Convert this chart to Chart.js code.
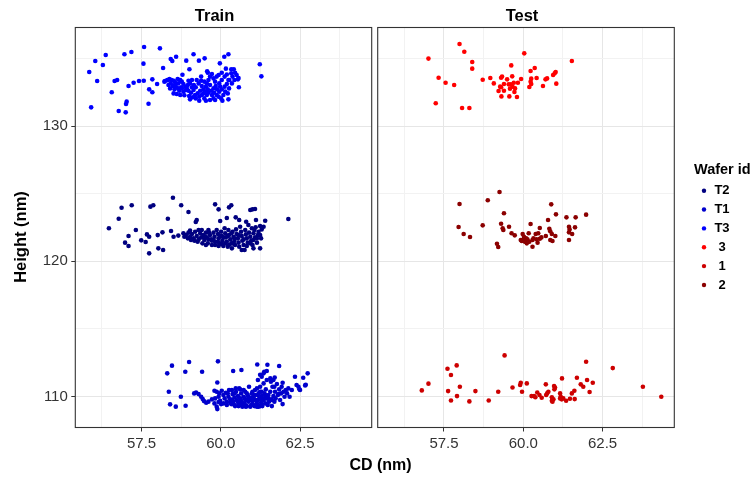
<!DOCTYPE html>
<html><head><meta charset="utf-8">
<script src="https://cdn.jsdelivr.net/npm/chart.js@4.4.1/dist/chart.umd.min.js"></script>
<style>
html,body{margin:0;padding:0;background:#fff;}
#wrap{position:relative;width:753px;height:478px;background:#fff;}
#wrap canvas{position:absolute;left:0;top:0;}
</style></head><body>
<div id="wrap"><canvas id="cTrain" width="753" height="478"></canvas><canvas id="cTest" width="753" height="478"></canvas></div>
<script>
const FONT = '"Liberation Sans", Arial, Helvetica, sans-serif';
const xRange = [55.41, 64.76];
const yRange = [107.72, 137.28];
const xTickLabels = ['57.5', '60.0', '62.5'];
const yTickLabels = ['110', '120', '130'];
const facetNames = ['Train', 'Test'];
const legendTitle = 'Wafer id';
const waferIds = ['T2', 'T1', 'T3', '3', '1', '2'];
const waferColors = ['#000080', '#0000CD', '#0000FF', '#FF0000', '#CD0000', '#8B0000'];

// Train, wafer T3 : [CD, Height]
const trainT3 = [
[55.85,133.99],[56.04,134.80],[56.37,135.25],[56.28,134.51],[56.10,133.33],[55.91,131.38],[56.56,132.49],[56.65,133.33],[56.73,133.40],[56.78,131.11],
[57.00,131.01],[57.01,131.63],[57.03,131.80],[56.96,135.30],[57.18,135.47],[57.09,132.96],[57.25,133.20],[57.42,133.33],[57.57,133.35],[57.56,134.61],
[57.58,135.84],[57.72,131.65],[57.74,132.71],[57.84,132.49],[57.84,133.45],[57.99,133.10],[58.08,135.74],[58.18,134.29],[58.22,133.28],[58.33,133.38],
[58.42,134.95],[58.47,134.80],[58.59,135.12],[58.79,133.79],[58.91,134.83],[59.01,134.19],[59.14,135.30],[59.31,134.83],[59.49,135.00],[59.38,133.65],
[59.57,134.04],[59.97,134.63],[60.11,135.12],[60.24,135.30],[60.16,134.24],[60.33,134.19],[60.41,134.19],[60.19,133.81],[60.27,133.40],[60.56,133.55],
[60.57,132.86],[61.23,134.56],[61.28,133.67],
[58.24,133.33],[58.31,133.40],[58.38,133.47],[58.45,133.40],[58.52,133.35],[58.56,133.20],[58.42,133.15],[58.35,133.03],[58.49,132.96],[58.58,132.91],
[58.66,133.15],[58.72,133.40],[58.64,133.47],[58.77,133.28],[58.82,133.10],[58.75,132.86],[58.88,132.91],[58.96,133.03],[59.03,133.15],[59.09,133.40],
[58.98,133.35],[59.15,133.03],[59.21,132.86],[59.14,132.66],[59.06,132.46],[58.98,132.61],[58.90,132.66],[58.82,132.54],[58.69,132.61],[58.54,132.71],
[58.51,132.41],[58.61,132.37],[58.72,132.29],[58.85,132.27],[59.00,132.22],[59.11,132.12],[59.21,132.04],[59.32,132.17],[59.40,132.29],[59.27,132.41],
[59.35,132.61],[59.45,132.71],[59.53,132.91],[59.40,132.96],[59.30,133.15],[59.24,133.40],[59.38,133.35],[59.48,133.28],[59.56,133.15],[59.61,133.40],
[59.66,133.65],[59.72,133.84],[59.59,133.94],[59.77,133.52],[59.82,133.28],[59.87,133.65],[59.93,133.77],[60.03,133.94],[60.12,133.65],[60.03,133.40],
[59.95,133.15],[59.84,132.96],[59.77,132.78],[59.70,132.61],[59.61,132.46],[59.56,132.29],[59.48,132.04],[59.53,131.87],[59.66,131.92],[59.77,132.04],
[59.87,132.29],[59.95,132.54],[60.03,132.71],[60.12,132.91],[60.19,133.10],[60.26,132.78],[60.35,133.15],[60.43,133.40],[60.50,133.77],[60.37,133.65],
[60.22,132.41],[60.08,132.29],[60.01,132.04],[60.05,131.87],[60.24,131.97],[60.14,132.54],[59.93,132.17],[59.82,131.92],[59.72,132.29],[59.59,132.71],
[59.45,132.41],[59.19,132.29],[59.09,132.86],[58.93,132.78],[58.77,132.78],[58.66,132.78],[58.56,133.03],[58.40,132.78],[59.03,131.97],[59.32,131.87],
[59.50,132.54],[59.66,133.03],[59.79,132.46],[59.88,132.71],[59.98,132.91],[60.24,133.40],[60.33,133.89],[60.45,133.94],[60.54,133.45]
];

// Train, wafer T2
const trainT2 = [
[56.47,122.44],[56.78,123.15],[56.87,123.96],[57.19,124.14],[57.09,121.87],[56.98,121.38],[57.09,121.13],[57.32,122.31],[57.49,121.55],[57.63,121.43],
[57.67,121.99],[57.74,120.59],[57.74,121.82],[57.78,124.04],[57.87,124.14],[58.01,121.94],[58.03,120.96],[58.16,122.14],[58.18,120.84],[58.33,123.15],
[58.49,124.70],[58.43,122.24],[58.51,121.82],[58.66,121.90],[58.75,124.14],[58.98,123.64],[59.21,122.91],[59.24,123.05],[59.82,124.21],[59.93,123.84],
[59.98,122.98],[60.19,123.20],[60.26,123.99],[60.33,124.14],[60.47,123.25],[60.58,123.05],[60.80,122.93],[60.93,123.79],[61.00,123.84],[61.08,123.87],
[61.11,123.05],[61.35,122.56],[61.40,123.00],[61.24,122.61],[61.27,121.70],[62.13,123.13],
[58.82,122.07],[58.90,121.94],[58.98,122.12],[59.03,121.82],[59.09,122.02],[59.14,121.70],[59.19,122.19],[59.24,121.87],[59.30,121.62],[59.35,122.07],
[59.40,122.31],[59.45,121.94],[59.48,121.58],[59.53,122.12],[59.56,121.77],[59.59,121.33],[59.61,122.31],[59.66,121.94],[59.70,121.62],[59.72,121.21],
[59.77,122.12],[59.80,121.82],[59.82,121.45],[59.87,122.31],[59.91,122.02],[59.93,121.70],[59.96,121.33],[60.01,122.19],[60.03,121.87],[60.05,121.53],
[60.08,121.13],[60.12,122.44],[60.14,122.07],[60.16,121.77],[60.19,121.45],[60.22,121.08],[60.24,122.31],[60.26,121.94],[60.30,121.62],[60.33,121.33],
[60.35,120.96],[60.37,122.19],[60.40,121.82],[60.43,121.50],[60.45,121.21],[60.48,122.36],[60.50,122.02],[60.54,121.70],[60.56,121.38],[60.58,121.08],
[60.61,122.56],[60.64,122.19],[60.66,121.87],[60.68,121.53],[60.72,121.21],[60.75,120.84],[60.77,122.31],[60.79,121.99],[60.82,121.70],[60.85,121.38],
[60.87,122.68],[60.89,122.12],[60.93,121.82],[60.96,121.53],[60.98,122.44],[61.00,121.21],[61.03,122.07],[61.06,122.31],[61.08,121.77],[61.10,122.51],
[61.14,121.38],[61.17,121.94],[61.19,122.19],[61.24,120.96],[61.29,122.36],[61.03,120.96],[60.66,120.84],[60.37,121.33],[60.26,121.21],[60.14,121.33],
[60.03,121.28],[59.93,121.13],[59.82,121.21],[59.72,121.53],[59.61,121.62],[59.50,121.82],[59.38,121.77],[59.27,121.45],[59.17,121.53],[59.06,121.58],
[58.96,121.70],[58.85,121.82],[59.03,122.27],[59.30,122.31],[59.42,121.33],[59.53,121.21],[59.63,122.12],[59.77,121.58],[59.91,121.45],[59.98,121.87],
[60.08,121.77],[60.22,121.87],[60.33,122.07],[60.43,121.70],[60.56,121.94],[60.72,121.62],[60.82,121.13],[60.93,121.33],[61.03,121.58],[61.14,121.70],
[61.24,121.94]
];

// Train, wafer T1
const trainT1 = [
[58.31,111.72],[58.46,112.29],[58.36,110.36],[58.40,109.43],[58.58,109.26],[58.74,109.99],[58.89,109.33],[58.88,111.84],[59.00,112.56],[59.41,111.84],
[59.91,112.61],[60.39,111.89],[60.65,111.97],[61.15,112.38],[61.47,112.36],[61.84,112.26],[61.24,111.62],[61.37,111.84],[61.45,111.89],[61.70,111.42],
[61.58,111.10],[61.69,110.73],[61.95,111.03],[61.82,110.19],[61.95,109.45],[62.17,109.99],[62.24,110.49],[62.34,111.47],[62.39,110.86],[62.45,110.73],
[62.50,110.49],[62.60,111.40],[62.66,110.83],[62.74,111.72],[62.68,110.88],[62.48,110.54],[59.89,111.05],[59.16,110.24],[59.22,110.31],[59.30,110.19],
[59.38,109.99],[59.43,109.82],[59.47,109.67],[59.54,109.55],[59.89,109.08],[59.87,109.26],[59.93,109.60],[60.01,109.45],[59.93,109.99],
[59.80,110.44],[59.87,110.36],[59.95,110.24],[60.03,110.44],[60.08,110.12],[60.12,109.87],[60.16,110.29],[60.19,109.63],[60.24,109.99],[60.26,110.49],
[60.30,109.80],[60.33,109.45],[60.37,110.19],[60.40,109.63],[60.43,109.94],[60.45,109.30],[60.48,110.36],[60.50,109.75],[60.54,110.04],[60.56,109.50],
[60.58,110.61],[60.61,109.87],[60.64,110.24],[60.66,109.63],[60.68,109.26],[60.72,109.99],[60.75,109.50],[60.77,110.36],[60.79,109.75],[60.82,109.30],
[60.85,110.12],[60.87,109.63],[60.89,110.73],[60.93,109.87],[60.96,109.38],[60.98,110.24],[61.00,109.63],[61.03,109.99],[61.06,109.30],[61.08,110.49],
[61.10,109.75],[61.14,109.50],[61.17,110.12],[61.19,109.26],[61.21,109.87],[61.24,110.36],[61.27,109.55],[61.29,110.04],[61.31,109.30],[61.35,109.75],
[61.38,110.24],[61.40,109.50],[61.42,110.54],[61.45,109.87],[61.48,109.38],[61.50,110.12],[61.52,109.63],[61.56,110.36],[61.59,109.80],[61.61,109.30],
[61.63,110.73],[61.66,110.04],[61.69,109.63],[61.71,110.36],[61.73,109.87],[61.77,110.93],[61.80,110.12],[61.84,110.54],[61.87,109.75],[61.90,110.24],
[61.92,110.73],[61.98,110.36],[62.01,109.99],[62.05,110.49],[62.09,110.24],[62.13,110.61],[60.79,109.26],[60.93,109.26],[61.03,109.38],[61.14,109.26],
[61.24,109.30],[60.66,109.38],[60.56,109.30],[60.43,109.38],[60.30,109.55],[60.19,109.38],[60.08,109.50],[59.98,109.70],[59.82,109.87],[59.72,109.80],
[59.61,109.63],[59.80,109.50],[60.35,109.75],[60.64,109.70],[60.85,109.80],[60.96,109.75],[61.06,109.80],[61.17,109.75],[61.27,109.80],[61.38,109.87],
[60.87,109.99],[60.98,109.94],[61.08,110.12],[61.19,110.24],[61.29,110.36],[61.40,110.12],[61.50,109.87],[61.61,109.75],[60.82,110.24],[60.72,110.49],
[60.61,110.54],[60.47,110.61],[60.35,110.49],[60.22,110.24],[60.75,109.87],[60.43,110.24],[60.54,109.63],[61.00,110.36],[61.14,110.61],[61.24,110.73],
[61.35,110.98],[61.45,111.23],[61.56,111.35],[61.66,111.23],[61.17,111.23],[61.29,111.47],[61.35,111.72]
];

// Test, wafer 3
const test3 = [
[57.01,134.98],[57.99,136.06],[58.14,135.49],[58.39,134.73],[58.39,134.24],[57.33,133.57],[57.55,133.20],[57.82,133.03],[57.24,131.68],[58.07,131.33],
[58.30,131.33],[58.72,133.42],[58.96,133.55],[59.07,133.15],[59.30,133.57],[59.33,133.65],[59.62,134.48],[59.65,133.67],[59.49,133.45],[59.39,133.10],
[59.27,132.91],[59.22,132.59],[59.30,132.86],[59.39,132.61],[59.31,132.19],[59.56,132.19],[59.54,133.08],[59.61,133.08],[59.70,133.20],[59.66,132.91],
[59.58,132.76],[59.72,132.51],[59.80,132.14],[59.74,132.78],[59.83,133.20],[59.93,133.47],[60.03,135.37],[60.23,134.07],[60.36,134.29],[60.25,133.50],
[60.23,133.28],[60.25,133.10],[60.19,132.88],[60.42,133.55],[60.62,132.96],[60.70,133.45],[60.75,133.52],[60.94,133.77],[60.99,133.89],[61.02,133.99],
[61.04,133.13],[61.53,134.80]
];

// Test, wafer 2
const test2 = [
[57.99,124.24],[58.88,124.51],[59.25,125.12],[59.39,123.55],[58.72,122.66],[57.96,122.54],[58.12,122.02],[58.32,121.80],[59.30,122.78],[59.35,122.44],
[59.37,122.31],[59.55,122.56],[59.17,121.30],[59.21,121.06],[59.63,122.07],[59.73,121.92],[59.98,122.02],[60.02,121.82],[59.95,121.50],[60.00,121.58],
[60.11,121.33],[60.09,121.70],[60.17,122.07],[60.19,121.45],[60.29,121.08],[60.29,121.58],[60.23,122.76],[60.39,122.02],[60.42,121.63],[60.45,121.38],
[60.52,121.67],[60.52,122.46],[60.57,121.77],[60.71,121.87],[60.78,123.05],[60.88,124.21],[61.03,123.47],[60.85,122.22],[60.90,122.02],[60.85,121.58],
[60.92,121.50],[61.01,121.87],[60.82,122.41],[61.36,123.25],[61.65,123.25],[61.98,123.45],[61.44,122.56],[61.46,122.36],[61.44,122.14],[61.54,122.02],
[61.63,122.51],[61.44,121.58],[60.05,121.45],[59.92,121.58],[60.13,121.63],[60.32,121.70],[60.47,122.07]
];

// Test, wafer 1
const test1 = [
[56.80,110.46],[57.01,110.96],[57.61,112.06],[57.90,112.31],[57.72,111.60],[57.63,110.41],[58.00,110.73],[57.91,110.04],[57.72,109.72],[58.30,109.65],
[58.49,110.41],[58.91,109.72],[59.21,110.36],[59.41,113.05],[59.66,110.68],[59.90,110.86],[59.92,111.03],[59.96,110.36],[60.11,110.98],[60.26,110.04],
[60.34,110.04],[60.44,110.31],[60.58,109.92],[60.71,110.91],[60.75,110.24],[60.72,110.12],[60.79,110.36],[60.90,109.95],[60.92,109.63],[60.97,110.78],
[60.98,110.54],[60.95,109.80],[61.00,110.68],[61.16,110.24],[61.18,109.99],[61.22,111.35],[61.21,109.80],[61.26,109.87],[61.35,109.70],[61.47,109.85],
[61.53,110.24],[61.61,110.44],[61.62,109.82],[61.69,111.40],[61.81,110.91],[61.89,110.73],[61.98,112.58],[62.01,111.23],[62.09,110.34],[62.19,111.03],
[62.82,112.11],[63.77,110.73],[64.35,109.99],[60.38,109.95],[60.51,110.12],[60.90,109.70],[61.16,109.87]
];

const seriesData = { T2: trainT2, T1: trainT1, T3: trainT3, '3': test3, '1': test1, '2': test2 };
const facetOf = { T2: 'Train', T1: 'Train', T3: 'Train', '3': 'Test', '1': 'Test', '2': 'Test' };

function colorOf(id) { return waferColors[waferIds.indexOf(id)]; }
function datasetsFor(facet) {
  return waferIds.filter(id => facetOf[id] === facet).map(id => ({
    label: id,
    data: seriesData[id].map(p => ({ x: p[0], y: p[1] })),
    backgroundColor: colorOf(id),
    borderColor: colorOf(id),
    pointRadius: 2.3,
    pointBorderWidth: 0,
    pointHoverRadius: 2.3
  }));
}

function isMajorX(v) { return xTickLabels.includes(Number(v).toFixed(1)); }
function isMajorY(v) { return yTickLabels.includes(String(Math.round(v))) && Math.abs(v - Math.round(v)) < 1e-6; }

const decor = {
  id: 'decor',
  afterDraw(chart, args, opts) {
    const ctx = chart.ctx, a = chart.chartArea;
    ctx.save();
    ctx.strokeStyle = '#333333';
    ctx.lineWidth = 1.1;
    ctx.strokeRect(a.left, a.top, a.right - a.left, a.bottom - a.top);
    (opts.texts || []).forEach(t => {
      ctx.save();
      ctx.font = t.font;
      ctx.fillStyle = t.color || '#000';
      ctx.textAlign = t.align || 'center';
      ctx.textBaseline = 'middle';
      ctx.translate(t.x(a), t.y(a));
      if (t.rot) ctx.rotate(t.rot);
      ctx.fillText(t.text, 0, 0);
      ctx.restore();
    });
    if (opts.legend) {
      const L = opts.legend;
      ctx.font = 'bold 14.5px ' + FONT;
      ctx.fillStyle = '#000';
      ctx.textAlign = 'left';
      ctx.textBaseline = 'middle';
      ctx.fillText(legendTitle, L.x, L.y);
      waferIds.forEach((id, i) => {
        const yy = L.y + L.first + i * L.step;
        ctx.beginPath();
        ctx.fillStyle = colorOf(id);
        ctx.arc(L.x + 10, yy, 2.2, 0, Math.PI * 2);
        ctx.fill();
        ctx.fillStyle = '#000';
        ctx.font = 'bold 13px ' + FONT;
        ctx.textAlign = 'center';
        ctx.fillText(id, L.x + 28, yy);
      });
    }
    ctx.restore();
  }
};

function makeOptions(opt) {
  return {
    responsive: false,
    animation: false,
    events: [],
    layout: { autoPadding: false, padding: { top: 27.5, left: 0, bottom: 0, right: opt.padRight } },
    plugins: {
      legend: { display: false },
      tooltip: { enabled: false },
      decor: { texts: opt.texts, legend: opt.legend }
    },
    scales: {
      x: {
        type: 'linear', position: 'bottom',
        min: xRange[0], max: xRange[1],
        border: { display: false },
        grid: {
          color: c => isMajorX(c.tick.value) ? '#E6E6E6' : '#F2F2F2',
          lineWidth: 1,
          drawTicks: true, tickLength: 4,
          tickColor: c => isMajorX(c.tick.value) ? '#333333' : 'rgba(0,0,0,0)'
        },
        ticks: {
          stepSize: 1.25, includeBounds: false, autoSkip: false, maxRotation: 0,
          padding: 3, color: '#333333',
          font: { family: FONT, size: 15 },
          callback: v => isMajorX(v) ? Number(v).toFixed(1) : ''
        },
        afterFit: s => { s.height = 50.5; }
      },
      y: {
        type: 'linear', position: 'left',
        min: yRange[0], max: yRange[1],
        border: { display: false },
        grid: {
          color: c => isMajorY(c.tick.value) ? '#E6E6E6' : '#F2F2F2',
          lineWidth: 1,
          drawTicks: opt.showY, tickLength: 4,
          tickColor: c => isMajorY(c.tick.value) ? '#333333' : 'rgba(0,0,0,0)'
        },
        ticks: {
          display: opt.showY,
          stepSize: 5, includeBounds: false, autoSkip: false,
          padding: 3.5, color: '#333333',
          font: { family: FONT, size: 15 },
          callback: v => isMajorY(v) ? String(Math.round(v)) : ''
        },
        afterFit: s => { s.width = opt.yWidth; }
      }
    }
  };
}

new Chart(document.getElementById('cTrain'), {
  type: 'scatter',
  data: { datasets: datasetsFor('Train') },
  options: makeOptions({
    padRight: 753 - 371.7, yWidth: 75.3, showY: true,
    texts: [
      { text: facetNames[0], font: 'bold 16.5px ' + FONT, x: a => (a.left + a.right) / 2 - 9, y: a => a.top - 11.5 },
      { text: 'Height (nm)', font: 'bold 16.5px ' + FONT, x: a => 21, y: a => 237, rot: -Math.PI / 2 }
    ]
  }),
  plugins: [decor]
});

new Chart(document.getElementById('cTest'), {
  type: 'scatter',
  data: { datasets: datasetsFor('Test') },
  options: makeOptions({
    padRight: 753 - 674.3, yWidth: 377.7, showY: false,
    texts: [
      { text: facetNames[1], font: 'bold 16.5px ' + FONT, x: a => (a.left + a.right) / 2 - 4, y: a => a.top - 11.5 },
      { text: 'CD (nm)', font: 'bold 16px ' + FONT, x: a => 380.5, y: a => 466 }
    ],
    legend: { x: 694, y: 170, first: 20.7, step: 18.85 }
  }),
  plugins: [decor]
});
</script>
</body></html>
